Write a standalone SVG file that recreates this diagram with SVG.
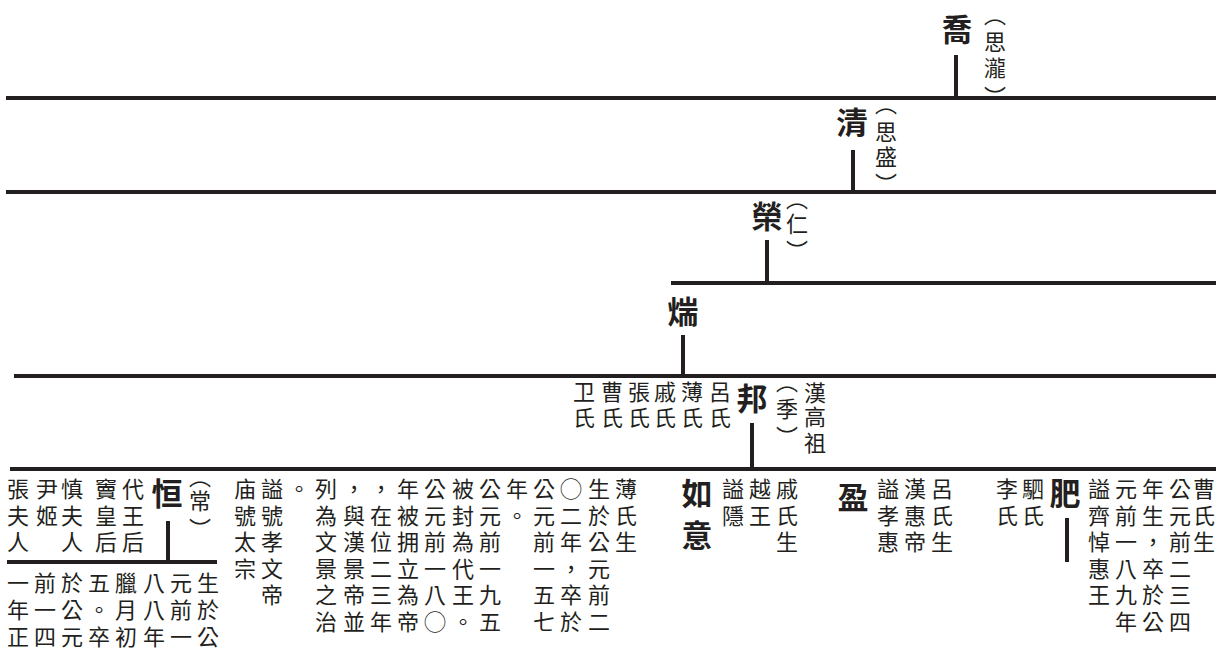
<svg xmlns="http://www.w3.org/2000/svg" width="1216" height="651" viewBox="0 0 1216 651">
<style>
text{font-family:"Noto Sans CJK TC","Noto Sans CJK SC",sans-serif;fill:#231f20;text-anchor:middle}
.b{font-size:31px;font-weight:700}
.s{font-size:22px}
.p{font-size:22px}
.ln{stroke:#231f20;stroke-width:4;fill:none}
</style>
<rect width="1216" height="651" fill="#ffffff"/>
<g id="connectors" class="ln">
<line x1="6" y1="98" x2="1216" y2="98"/>
<line x1="6" y1="192" x2="1216" y2="192"/>
<line x1="671" y1="283" x2="1216" y2="283"/>
<line x1="14" y1="376" x2="1216" y2="376"/>
<line x1="10" y1="469" x2="1216" y2="469"/>
<line x1="7" y1="562" x2="217" y2="562"/>
<line x1="956" y1="55" x2="956" y2="98"/>
<line x1="853" y1="150" x2="853" y2="192"/>
<line x1="767" y1="240" x2="767" y2="283"/>
<line x1="683" y1="335" x2="683" y2="376"/>
<line x1="752" y1="423" x2="752" y2="469"/>
<line x1="168" y1="521" x2="168" y2="562"/>
<line x1="1067" y1="518" x2="1067" y2="562"/>
</g>
<g id="node-qiao">
<text class="b" x="957" y="41">喬</text>
<text class="p" x="995 995 995 995" y="23 50 76 104.5">︵思瀧︶</text>
</g>
<g id="node-qing">
<text class="b" x="852" y="134">清</text>
<text class="p" x="886 886 886 886" y="112 140 165 191.5">︵思盛︶</text>
</g>
<g id="node-rong">
<text class="b" x="767" y="228">榮</text>
<text class="p" x="797 797 797" y="207 232 258.5">︵仁︶</text>
</g>
<g id="node-tuan">
<text class="b" x="683" y="323">煓</text>
</g>
<g id="node-bang">
<text class="b" x="752" y="410">邦</text>
<text class="p" x="787 787 787" y="390 417 444.5">︵季︶</text>
<text class="s" x="815 815 815" y="401 425 451">漢高祖</text>
<text class="s" x="584 584" y="400 426">卫氏</text>
<text class="s" x="612 612" y="400 426">曹氏</text>
<text class="s" x="639 639" y="400 426">張氏</text>
<text class="s" x="665 665" y="400 426">戚氏</text>
<text class="s" x="692 692" y="400 426">薄氏</text>
<text class="s" x="720 720" y="400 426">呂氏</text>
</g>
<g id="node-heng">
<text class="b" x="167" y="505">恒</text>
<text class="p" x="200 200 200" y="485 509 536.5">︵常︶</text>
<text class="s" x="18 18 18" y="497 524 550">張夫人</text>
<text class="s" x="47 47" y="497 524">尹姬</text>
<text class="s" x="72 72 72" y="497 524 550">慎夫人</text>
<text class="s" x="106 106 106" y="497 524 550">竇皇后</text>
<text class="s" x="133 133 133" y="497 524 550">代王后</text>
<text class="s" x="208 208 208" y="591 618 645">生於公</text>
<text class="s" x="181 181 181" y="591 618 645">元前一</text>
<text class="s" x="154 154 154" y="591 618 645">八八年</text>
<text class="s" x="126 126 126" y="591 618 645">臘月初</text>
<text class="s" x="99 99 99" y="591 618 645">五。卒</text>
<text class="s" x="72 72 72" y="591 618 645">於公元</text>
<text class="s" x="45 45 45" y="591 618 645">前一四</text>
<text class="s" x="18 18 18" y="591 618 645">一年正</text>
<text class="s" x="626 626 626" y="497 524 550">薄氏生</text>
<text class="s" x="599 599 599 599 599 599" y="497 524 550 577 603 630">生於公元前二</text>
<text class="s" x="571 571 571 571 571 571" y="497 524 550 577 603 630">◯二年，卒於</text>
<text class="s" x="544 544 544 544 544 544" y="497 524 550 577 603 630">公元前一五七</text>
<text class="s" x="517 517" y="497 524">年。</text>
<text class="s" x="490 490 490 490 490 490" y="497 524 550 577 603 630">公元前一九五</text>
<text class="s" x="463 463 463 463 463 463" y="497 524 550 577 603 630">被封為代王。</text>
<text class="s" x="435 435 435 435 435 435" y="497 524 550 577 603 630">公元前一八◯</text>
<text class="s" x="408 408 408 408 408 408" y="497 524 550 577 603 630">年被拥立為帝</text>
<text class="s" x="381 381 381 381 381 381" y="497 524 550 577 603 630">，在位二三年</text>
<text class="s" x="354 354 354 354 354 354" y="497 524 550 577 603 630">，與漢景帝並</text>
<text class="s" x="326 326 326 326 326 326" y="497 524 550 577 603 630">列為文景之治</text>
<text class="s" x="299" y="497">。</text>
<text class="s" x="272 272 272 272 272" y="497 524 550 577 603">謚號孝文帝</text>
<text class="s" x="245 245 245 245" y="497 524 550 577">庙號太宗</text>
</g>
<g id="node-ruyi">
<text class="b" x="697 697" y="505 547">如意</text>
<text class="s" x="733 733" y="497 524">謚隱</text>
<text class="s" x="760 760" y="497 524">越王</text>
<text class="s" x="787 787 787" y="497 524 550">戚氏生</text>
</g>
<g id="node-ying">
<text class="b" x="853" y="509">盈</text>
<text class="s" x="888 888 888" y="497 524 550">謚孝惠</text>
<text class="s" x="915 915 915" y="497 524 550">漢惠帝</text>
<text class="s" x="942 942 942" y="497 524 550">呂氏生</text>
</g>
<g id="node-fei">
<text class="s" x="1007 1007" y="497 524">李氏</text>
<text class="s" x="1033 1033" y="497 524">駟氏</text>
<text class="b" x="1065" y="505">肥</text>
<text class="s" x="1099 1099 1099 1099 1099" y="497 524 550 577 603">謚齊悼惠王</text>
<text class="s" x="1126 1126 1126 1126 1126 1126" y="497 524 550 577 603 630">元前一八九年</text>
<text class="s" x="1153 1153 1153 1153 1153 1153" y="497 524 550 577 603 630">年生，卒於公</text>
<text class="s" x="1180 1180 1180 1180 1180 1180" y="497 524 550 577 603 630">公元前二三四</text>
<text class="s" x="1204 1204 1204" y="497 524 550">曹氏生</text>
</g>
</svg>
